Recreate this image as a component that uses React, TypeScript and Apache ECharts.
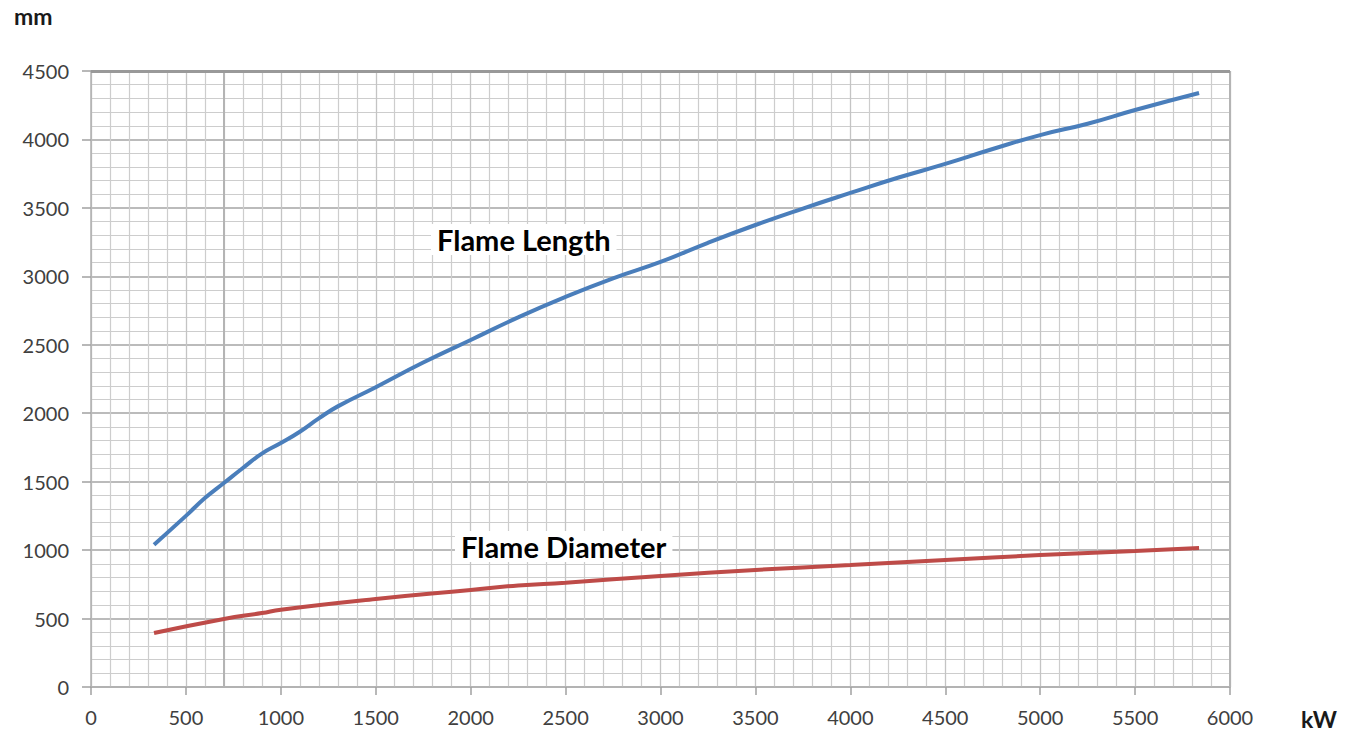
import React, { useEffect, useRef } from "react";
import * as echarts from "echarts";

const powerKW = [332, 500, 600, 700, 800, 900, 1000, 1100, 1200, 1300, 1500, 1750, 2000, 2250, 2500, 2750, 3000, 3250, 3500, 3750, 4000, 4250, 4500, 4750, 5000, 5250, 5500, 5837];
const flameLength = [1040, 1250, 1380, 1490, 1600, 1705, 1782, 1865, 1962, 2050, 2190, 2370, 2535, 2700, 2850, 2985, 3105, 3245, 3375, 3495, 3609, 3720, 3821, 3930, 4032, 4115, 4215, 4339];

const diamKW = [332, 700, 900, 1000, 1500, 2000, 2250, 2500, 3000, 3500, 4000, 4500, 5000, 5500, 5837];
const flameDiameter = [394, 497, 540, 565, 643, 709, 742, 762, 811, 855, 891, 928, 964, 993, 1015];

const xTicks = [0, 6000, 500];
const yTicks = [0, 4500, 500];

const FONT = "Lato, 'Open Sans', sans-serif";

export default function App() {
  const ref = useRef<HTMLDivElement>(null);
  useEffect(() => {
    if (!ref.current) return;
    const chart = echarts.init(ref.current, undefined, { renderer: "svg" });
    chart.setOption({
      animation: false,
      backgroundColor: "#ffffff",
      grid: { left: 91, right: 127, top: 71, bottom: 48, containLabel: false },
      xAxis: {
        type: "value",
        min: xTicks[0],
        max: xTicks[1],
        interval: xTicks[2],
        axisLine: { show: true, lineStyle: { color: "#b0b0b0", width: 1.5 } },
        axisTick: { show: true, length: 8, lineStyle: { color: "#a0a0a0", width: 1.5 } },
        axisLabel: { color: "#404040", fontSize: 20, fontFamily: FONT, margin: 20, formatter: (v: number) => String(v) },
        splitLine: { show: true, lineStyle: { color: "#c4c4c4", width: 1.3 } },
        minorTick: { show: false, splitNumber: 5 },
        minorSplitLine: { show: true, lineStyle: { color: "#cdcdcd", width: 1.2 } },
      },
      yAxis: {
        type: "value",
        min: yTicks[0],
        max: yTicks[1],
        interval: yTicks[2],
        axisLine: { show: true, lineStyle: { color: "#b0b0b0", width: 1.5 } },
        axisTick: { show: true, length: 9, lineStyle: { color: "#a0a0a0", width: 1.5 } },
        axisLabel: { color: "#404040", fontSize: 20, fontFamily: FONT, margin: 22, formatter: (v: number) => String(v) },
        splitLine: { show: true, lineStyle: { color: "#a4a4a4", width: 1.5 } },
        minorTick: { show: false, splitNumber: 5 },
        minorSplitLine: { show: true, lineStyle: { color: "#cdcdcd", width: 1.2 } },
      },
      series: [
        {
          type: "line",
          name: "Flame Length",
          data: powerKW.map((x, i) => [x, flameLength[i]]),
          smooth: 0.5,
          showSymbol: false,
          lineStyle: { color: "#4a7ebb", width: 4 },
          markLine: {
            silent: true,
            symbol: "none",
            label: { show: false },
            lineStyle: { color: "#b4b4b4", width: 2, type: "solid" },
            data: [{ xAxis: 700 }, { xAxis: 6000 }],
          },
          z: 5,
        },
        {
          type: "line",
          name: "Flame Diameter",
          data: diamKW.map((x, i) => [x, flameDiameter[i]]),
          smooth: 0.5,
          showSymbol: false,
          lineStyle: { color: "#be4b48", width: 4 },
          markLine: {
            silent: true,
            symbol: "none",
            label: { show: false },
            lineStyle: { color: "#999999", width: 3, type: "solid" },
            data: [{ yAxis: 4500 }],
          },
          z: 5,
        },
      ],
      graphic: [
        {
          type: "text",
          left: 431,
          top: 224,
          z: 10,
          style: {
            text: "Flame Length",
            font: `bold 29px ${FONT}`,
            fill: "#000000",
            backgroundColor: "#ffffff",
            padding: [1, 6],
          },
        },
        {
          type: "text",
          left: 455,
          top: 531,
          z: 10,
          style: {
            text: "Flame Diameter",
            font: `bold 29px ${FONT}`,
            fill: "#000000",
            backgroundColor: "#ffffff",
            padding: [1, 6],
          },
        },
        {
          type: "text",
          left: 14,
          top: 4,
          style: { text: "mm", font: `bold 23px ${FONT}`, fill: "#1a1a1a" },
        },
        {
          type: "text",
          left: 1301,
          top: 707,
          style: { text: "kW", font: `bold 23px ${FONT}`, fill: "#1a1a1a" },
        },
      ],
    });
    return () => chart.dispose();
  }, []);
  return (
    <div
      ref={ref}
      style={{ position: "fixed", left: 0, top: 0, width: 1357, height: 735 }}
    />
  );
}
